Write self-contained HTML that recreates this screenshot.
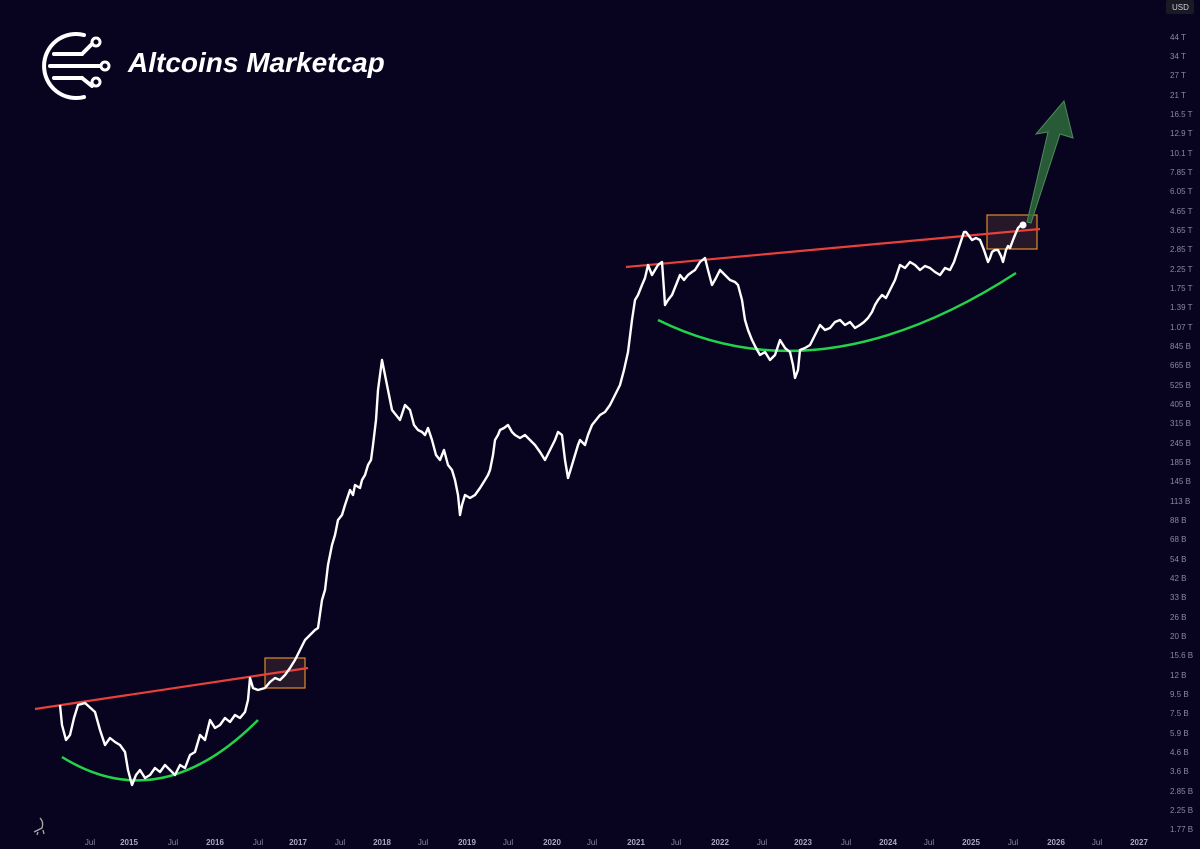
<!DOCTYPE html>
<html><head><meta charset="utf-8"><style>
html,body{margin:0;padding:0;background:#08041f;}
svg{display:block}
.ax{font-family:"Liberation Sans",sans-serif;font-size:8px;fill:#8a87a8;}
.yr{font-weight:bold;fill:#a9a6c4}
</style></head><body>
<svg width="1200" height="849" viewBox="0 0 1200 849" xmlns="http://www.w3.org/2000/svg">
<rect width="1200" height="849" fill="#08041f"/>
<!-- logo -->
<g fill="none" stroke="#fff" stroke-width="4" stroke-linecap="round">
<path d="M84,35 A32,32 0 1 0 84,97"/>
<line x1="54" y1="54" x2="82" y2="54"/><path d="M82,54 L92,44"/>
<line x1="50" y1="66" x2="100" y2="66"/>
<line x1="54" y1="78" x2="82" y2="78"/><path d="M82,78 L92,86"/>
</g>
<g fill="#08041f" stroke="#fff" stroke-width="3"><circle cx="96" cy="42" r="4"/><circle cx="105" cy="66" r="4"/><circle cx="96" cy="82" r="4"/></g>
<text x="128" y="72" font-family="Liberation Sans,sans-serif" font-weight="bold" font-style="italic" font-size="28" fill="#fff">Altcoins Marketcap</text>
<!-- boxes -->
<rect x="265" y="658" width="40" height="30" fill="#3a2430" fill-opacity="0.6" stroke="#e08a2a" stroke-width="1.2"/>
<rect x="987" y="215" width="50" height="34" fill="#3a2430" fill-opacity="0.6" stroke="#e08a2a" stroke-width="1.2"/>
<!-- arrow -->
<path d="M1027,222 L1048,132 L1036,134 L1064,101 L1073,138 L1060,134 L1031,223 Z" fill="#2f6a3c" fill-opacity="0.85" stroke="#4d8a5a" stroke-width="1"/>
<!-- red lines -->
<line x1="35" y1="709" x2="308" y2="668" stroke="#e8403a" stroke-width="2.2"/>
<line x1="626" y1="267" x2="1040" y2="229" stroke="#e8403a" stroke-width="2.2"/>
<!-- green curves -->
<path d="M62,757 Q160,818 258,720" fill="none" stroke="#22d34a" stroke-width="2.5"/>
<path d="M658,320 Q820,400 1016,273" fill="none" stroke="#22d34a" stroke-width="2.5"/>
<!-- price -->
<polyline fill="none" stroke="#fff" stroke-width="2.4" stroke-linejoin="round" points="60,705 62,725 66,740 70,735 74,718 78,705 85,703 95,712 100,730 105,745 110,738 115,742 120,745 125,752 128,770 132,785 136,775 140,770 145,778 150,775 155,768 160,772 165,765 170,770 175,775 180,765 185,768 190,755 195,752 200,735 205,740 210,720 215,728 220,725 225,718 230,722 235,715 240,718 245,712 248,700 250,678 253,688 258,690 265,688 270,682 275,678 280,680 285,675 290,668 295,660 300,650 305,640 310,635 315,630 318,628 322,600 325,590 328,565 332,545 335,535 338,520 342,515 345,505 350,490 353,495 355,485 360,488 362,480 365,475 368,465 371,460 373,445 376,420 378,390 380,375 382,360 384,370 386,380 389,395 392,410 396,415 400,420 405,405 410,410 414,425 418,430 422,432 425,435 428,428 432,440 436,455 440,460 444,450 448,465 452,470 455,480 458,495 460,515 462,505 465,495 470,498 475,495 480,488 485,480 488,475 490,470 493,455 495,440 498,435 500,430 504,428 508,425 512,432 515,435 520,438 525,435 530,440 535,445 540,452 545,460 550,450 555,440 558,432 562,435 565,460 568,478 572,465 575,455 578,445 580,440 585,445 588,435 592,425 596,420 600,415 605,412 610,405 615,395 620,385 624,370 628,352 632,320 635,300 638,295 642,285 645,278 648,265 652,275 655,270 658,265 662,262 664,290 665,305 668,300 672,295 676,285 680,275 684,280 688,275 692,272 695,270 700,262 705,258 708,270 712,285 716,278 720,270 725,275 730,280 735,282 738,285 742,300 745,320 748,330 752,340 756,348 760,355 765,352 770,360 775,355 780,340 785,348 790,352 793,365 795,378 798,370 800,350 805,348 810,345 815,335 820,325 825,330 830,328 835,322 840,320 845,325 850,322 855,328 860,325 864,322 868,318 872,312 875,305 878,300 882,295 886,298 890,290 895,280 900,265 905,268 910,262 915,265 920,270 925,266 930,268 935,272 940,275 945,268 950,270 954,262 958,250 962,238 964,232 966,232 969,236 972,240 976,238 980,240 984,250 988,262 990,258 992,252 995,250 998,250 1001,256 1003,262 1006,250 1008,246 1010,248 1013,240 1015,235 1018,228 1020,226 1023,224 1025,225"/>
<circle cx="1023" cy="225" r="3.5" fill="#fff"/>
<!-- y axis -->
<rect x="1166" y="0" width="28" height="14" rx="2" fill="#1a1a24"/>
<text x="1172" y="10" class="ax" style="fill:#cfcfe0">USD</text>
<g class="ax">
<text x="1170" y="40">44 T</text><text x="1170" y="59">34 T</text><text x="1170" y="78">27 T</text><text x="1170" y="98">21 T</text><text x="1170" y="117">16.5 T</text><text x="1170" y="136">12.9 T</text><text x="1170" y="156">10.1 T</text><text x="1170" y="175">7.85 T</text><text x="1170" y="194">6.05 T</text><text x="1170" y="214">4.65 T</text><text x="1170" y="233">3.65 T</text><text x="1170" y="252">2.85 T</text><text x="1170" y="272">2.25 T</text><text x="1170" y="291">1.75 T</text><text x="1170" y="310">1.39 T</text><text x="1170" y="330">1.07 T</text><text x="1170" y="349">845 B</text><text x="1170" y="368">665 B</text><text x="1170" y="388">525 B</text><text x="1170" y="407">405 B</text><text x="1170" y="426">315 B</text><text x="1170" y="446">245 B</text><text x="1170" y="465">185 B</text><text x="1170" y="484">145 B</text><text x="1170" y="504">113 B</text><text x="1170" y="523">88 B</text><text x="1170" y="542">68 B</text><text x="1170" y="562">54 B</text><text x="1170" y="581">42 B</text><text x="1170" y="600">33 B</text><text x="1170" y="620">26 B</text><text x="1170" y="639">20 B</text><text x="1170" y="658">15.6 B</text><text x="1170" y="678">12 B</text><text x="1170" y="697">9.5 B</text><text x="1170" y="716">7.5 B</text><text x="1170" y="736">5.9 B</text><text x="1170" y="755">4.6 B</text><text x="1170" y="774">3.6 B</text><text x="1170" y="794">2.85 B</text><text x="1170" y="813">2.25 B</text><text x="1170" y="832">1.77 B</text>
</g>
<!-- x axis -->
<g class="ax" text-anchor="middle">
<text x="90" y="845">Jul</text><text x="129" y="845" class="yr">2015</text><text x="173" y="845">Jul</text><text x="215" y="845" class="yr">2016</text><text x="258" y="845">Jul</text><text x="298" y="845" class="yr">2017</text><text x="340" y="845">Jul</text><text x="382" y="845" class="yr">2018</text><text x="423" y="845">Jul</text><text x="467" y="845" class="yr">2019</text><text x="508" y="845">Jul</text><text x="552" y="845" class="yr">2020</text><text x="592" y="845">Jul</text><text x="636" y="845" class="yr">2021</text><text x="676" y="845">Jul</text><text x="720" y="845" class="yr">2022</text><text x="762" y="845">Jul</text><text x="803" y="845" class="yr">2023</text><text x="846" y="845">Jul</text><text x="888" y="845" class="yr">2024</text><text x="929" y="845">Jul</text><text x="971" y="845" class="yr">2025</text><text x="1013" y="845">Jul</text><text x="1056" y="845" class="yr">2026</text><text x="1097" y="845">Jul</text><text x="1139" y="845" class="yr">2027</text>
</g>
<path d="M40,818 Q44,822 42,828 L34,832 M38,832 L37,835 M43,830 L44,834" fill="none" stroke="#aaa" stroke-width="1.3"/>
</svg>
</body></html>
